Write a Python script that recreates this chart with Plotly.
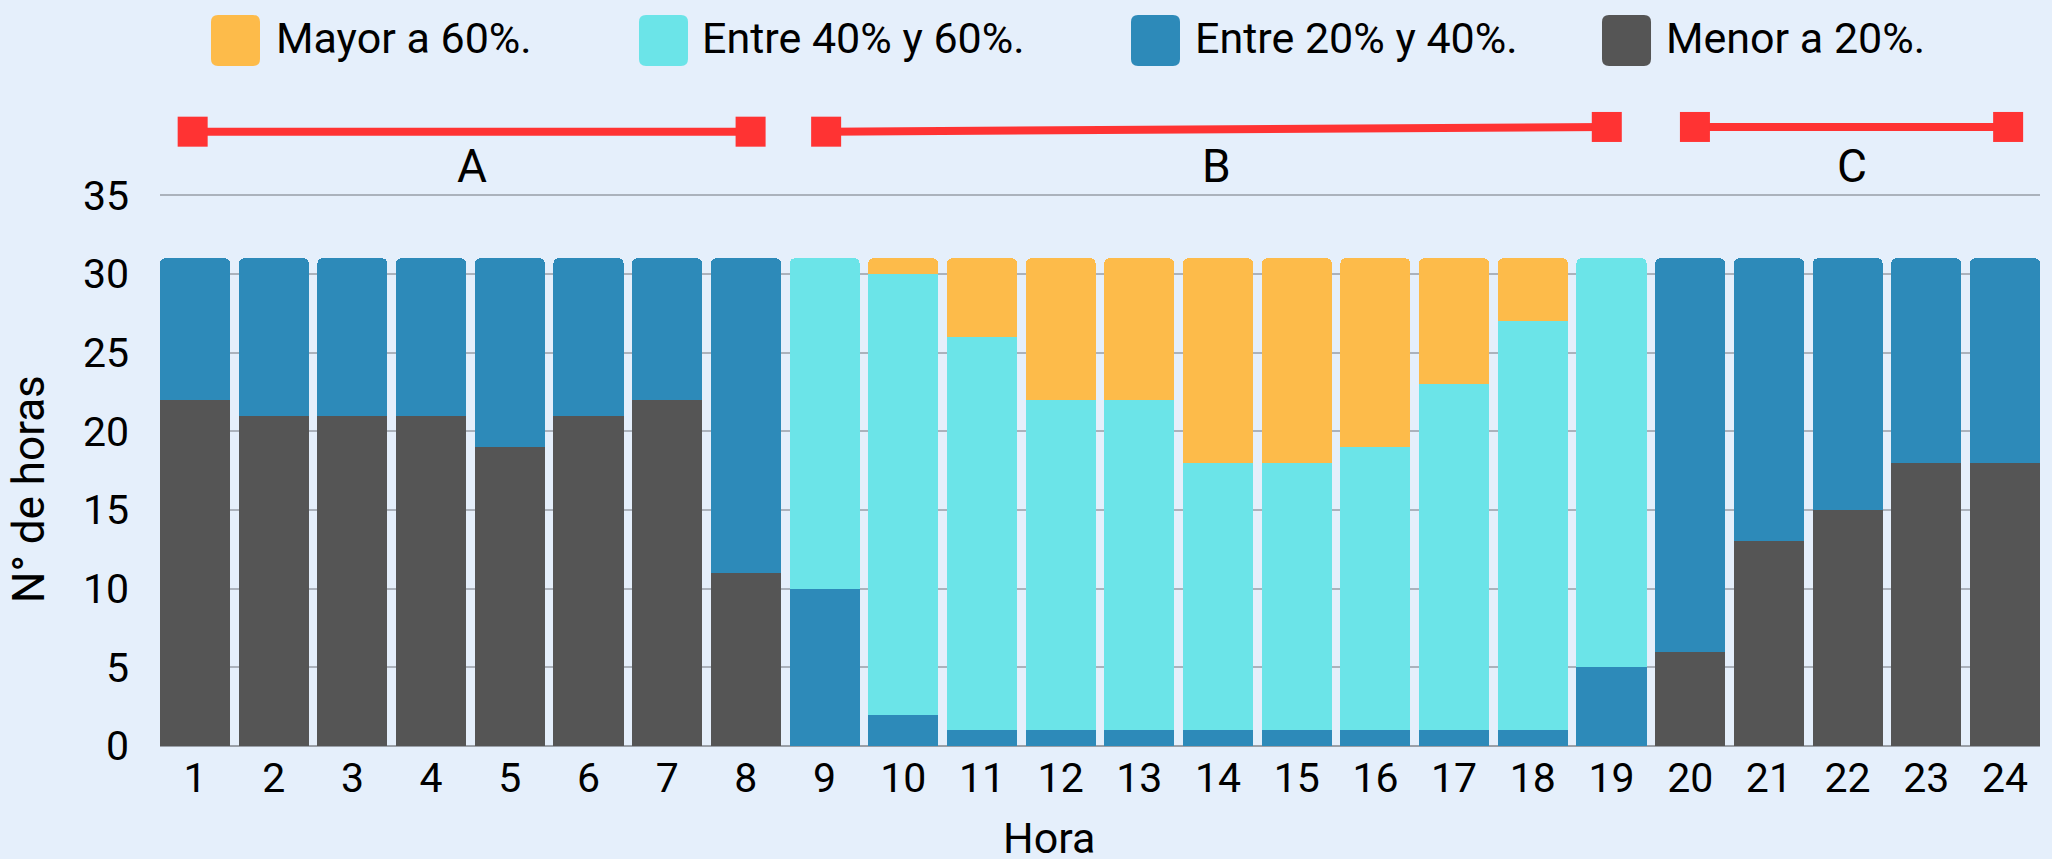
import plotly.graph_objects as go

# ---------------- data ----------------
horas = list(range(1, 25))
series_names = ["Menor a 20%.", "Entre 20% y 40%.", "Entre 40% y 60%.", "Mayor a 60%."]
menor_20 = [22, 21, 21, 21, 19, 21, 22, 11, 0, 0, 0, 0, 0, 0, 0, 0, 0, 0, 0, 6, 13, 15, 18, 18]
entre_20_40 = [9, 10, 10, 10, 12, 10, 9, 20, 10, 2, 1, 1, 1, 1, 1, 1, 1, 1, 5, 25, 18, 16, 13, 13]
entre_40_60 = [0, 0, 0, 0, 0, 0, 0, 0, 21, 28, 25, 21, 21, 17, 17, 18, 22, 26, 26, 0, 0, 0, 0, 0]
mayor_60 = [0, 0, 0, 0, 0, 0, 0, 0, 0, 1, 5, 9, 9, 13, 13, 12, 8, 4, 0, 0, 0, 0, 0, 0]
series_values = [menor_20, entre_20_40, entre_40_60, mayor_60]
series_colors = ["#555555", "#2D8AB9", "#6BE4E8", "#FDBB4A"]

# periods (A, B, C) drawn as red range lines
period_labels = ["A", "B", "C"]
period_x = [[0.97, 8.06], [9.02, 18.94], [20.06, 24.04]]
period_y = [[39.05, 39.05], [39.05, 39.35], [39.35, 39.35]]
period_label_y = 36.9

ytick_vals = [0, 5, 10, 15, 20, 25, 30, 35]
x_title = "Hora"
y_title = "N° de horas"

# ---------------- layout helpers ----------------
W, H = 2052, 859
L, R, T, B = 160, 2040, 101, 746
FONT = "Roboto"
BG = "#E5EFFB"


def px2paper(xp, yp):
    return (xp - L) / (R - L), (B - yp) / (B - T)


def rounded_rect(x0, y0, x1, y1, r):
    def P(x, y):
        a, b = px2paper(x, y)
        return f"{a:.5f},{b:.5f}"
    return (f"M {P(x0 + r, y0)} L {P(x1 - r, y0)} Q {P(x1, y0)} {P(x1, y0 + r)} "
            f"L {P(x1, y1 - r)} Q {P(x1, y1)} {P(x1 - r, y1)} "
            f"L {P(x0 + r, y1)} Q {P(x0, y1)} {P(x0, y1 - r)} "
            f"L {P(x0, y0 + r)} Q {P(x0, y0)} {P(x0 + r, y0)} Z")


fig = go.Figure()

for name, vals, col in zip(series_names, series_values, series_colors):
    fig.add_trace(go.Bar(x=horas, y=vals, name=name, marker=dict(color=col, line=dict(width=0)),
                         showlegend=False))

for lab, xs, ys in zip(period_labels, period_x, period_y):
    fig.add_trace(go.Scatter(x=xs, y=ys, mode="lines+markers", showlegend=False,
                             line=dict(color="#FF3333", width=8),
                             marker=dict(symbol="square", size=30, color="#FF3333")))
    fig.add_annotation(x=sum(xs) / 2, y=period_label_y, text=lab, showarrow=False,
                       font=dict(family=FONT, size=46, color="black"), xanchor="center", yanchor="middle")

# custom legend (order: top of stack first)
legend_swatch_x = [211, 639, 1131, 1602]
legend_text_x = [274, 700, 1193, 1664]
for i, (name, col) in enumerate(zip(series_names[::-1], series_colors[::-1])):
    sx = legend_swatch_x[i]
    fig.add_shape(type="path", xref="paper", yref="paper",
                  path=rounded_rect(sx, 15, sx + 49, 66, 7),
                  fillcolor=col, line=dict(width=0))
    tx, ty = px2paper(legend_text_x[i], 38)
    fig.add_annotation(x=tx, y=ty, xref="paper", yref="paper", text=name, showarrow=False,
                       xanchor="left", yanchor="middle",
                       font=dict(family=FONT, size=43, color="black"))

# axis titles (placed like the reference, not centred on the plot area)
ax, ay = px2paper(1049, 838)
fig.add_annotation(x=ax, y=ay, xref="paper", yref="paper", text=x_title, showarrow=False,
                   xanchor="center", yanchor="middle", font=dict(family=FONT, size=43, color="black"))
bx, by = px2paper(29, 489)
fig.add_annotation(x=bx, y=by, xref="paper", yref="paper", text=y_title, showarrow=False,
                   textangle=-90, xanchor="center", yanchor="middle",
                   font=dict(family=FONT, size=44, color="black"))

fig.update_layout(
    width=W, height=H,
    margin=dict(l=L, r=W - R, t=T, b=H - B, pad=0, autoexpand=False),
    paper_bgcolor=BG, plot_bgcolor=BG,
    barmode="stack", bargap=0.11, barcornerradius=5,
    font=dict(family=FONT, size=41, color="black"),
    showlegend=False,
)
fig.update_xaxes(
    automargin=False,
    range=[0.555, 24.445], tickmode="array", tickvals=horas, ticktext=[str(h) for h in horas],
    showgrid=False, zeroline=False, showline=False, ticks="",
    tickfont=dict(family=FONT, size=41, color="black"), ticklabelstandoff=4,
)
fig.update_yaxes(
    automargin=False,
    range=[0, 41], tickmode="array", tickvals=ytick_vals,
    showgrid=True, gridcolor="#ABB2BC", gridwidth=2,
    zeroline=True, zerolinecolor="#9AA0A8", zerolinewidth=2,
    showline=False, ticks="",
    tickfont=dict(family=FONT, size=41, color="black"), ticklabelstandoff=30,
)

fig.write_html("out.html", config={"displayModeBar": False},
               post_script="document.body.style.margin='0';document.body.style.overflow='hidden';"
                           "document.body.style.background='" + BG + "';")
